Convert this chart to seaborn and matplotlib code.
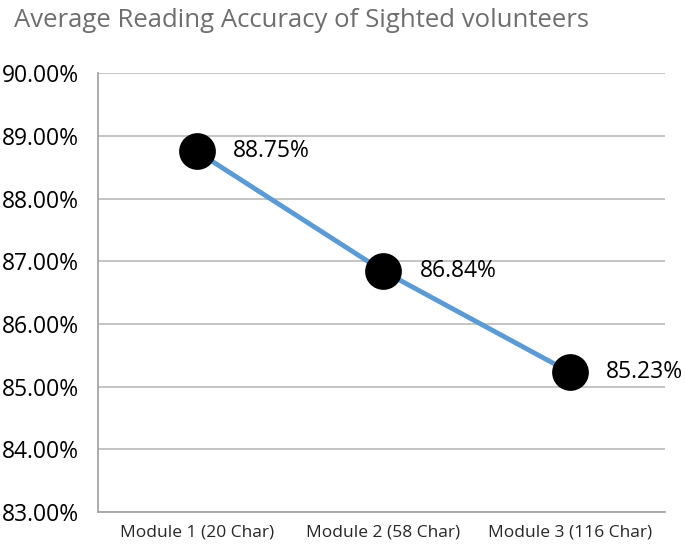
import matplotlib
matplotlib.use('Agg')
import matplotlib.pyplot as plt
import seaborn as sns
import pandas as pd
from matplotlib.ticker import PercentFormatter

# data
modules = ['Module 1 (20 Char)', 'Module 2 (58 Char)', 'Module 3 (116 Char)']
accuracy = [88.75, 86.84, 85.23]
labels = ['88.75%', '86.84%', '85.23%']

df = pd.DataFrame({'module': modules, 'accuracy': accuracy})
df['pos'] = range(len(df))

sns.set_style('white')
plt.rcParams['font.family'] = ['Open Sans', 'DejaVu Sans']

f, ax = plt.subplots(figsize=(6.85, 5.49), dpi=100)
f.subplots_adjust(left=0.143, right=0.971, bottom=0.067, top=0.867)

# line and markers
sns.lineplot(x='pos', y='accuracy', data=df, ax=ax, color='#5B9BD5', linewidth=3.5, zorder=2)
sns.scatterplot(x='pos', y='accuracy', data=df, ax=ax, color='black', s=600,
                edgecolor='black', zorder=3, legend=False)

# data labels
for x, y, t in zip(df['pos'], df['accuracy'], labels):
    ax.annotate(t, (x, y), xytext=(26, 0), textcoords='offset points',
                va='center', ha='left', fontsize=16.5, color='black')

ax.set_xlim(-0.53, 2.51)
ax.set_ylim(83, 90)
ax.set_yticks(range(83, 91))
ax.yaxis.set_major_formatter(PercentFormatter(decimals=2))
ax.set_xticks(df['pos'])
ax.set_xticklabels(modules, fontsize=12.5, color='#262626')
ax.tick_params(axis='y', labelsize=16.5, labelcolor='black', length=0, pad=14)
ax.tick_params(axis='x', length=0, pad=9)
ax.set(xlabel='', ylabel='')

ax.grid(axis='y', color='#BFBFBF', linewidth=1.3)
ax.set_axisbelow(True)
for s in ['top', 'right']:
    ax.spines[s].set_visible(False)
ax.spines['left'].set_color('#A6A6A6')
ax.spines['left'].set_linewidth(1.3)
ax.spines['bottom'].set_color('#A6A6A6')
ax.spines['bottom'].set_linewidth(1.3)

f.text(0.02, 0.985, 'Average Reading Accuracy of Sighted volunteers', fontsize=18.5,
       color='#6E6E6E', ha='left', va='top')

plt.savefig('out.png', dpi=100)
